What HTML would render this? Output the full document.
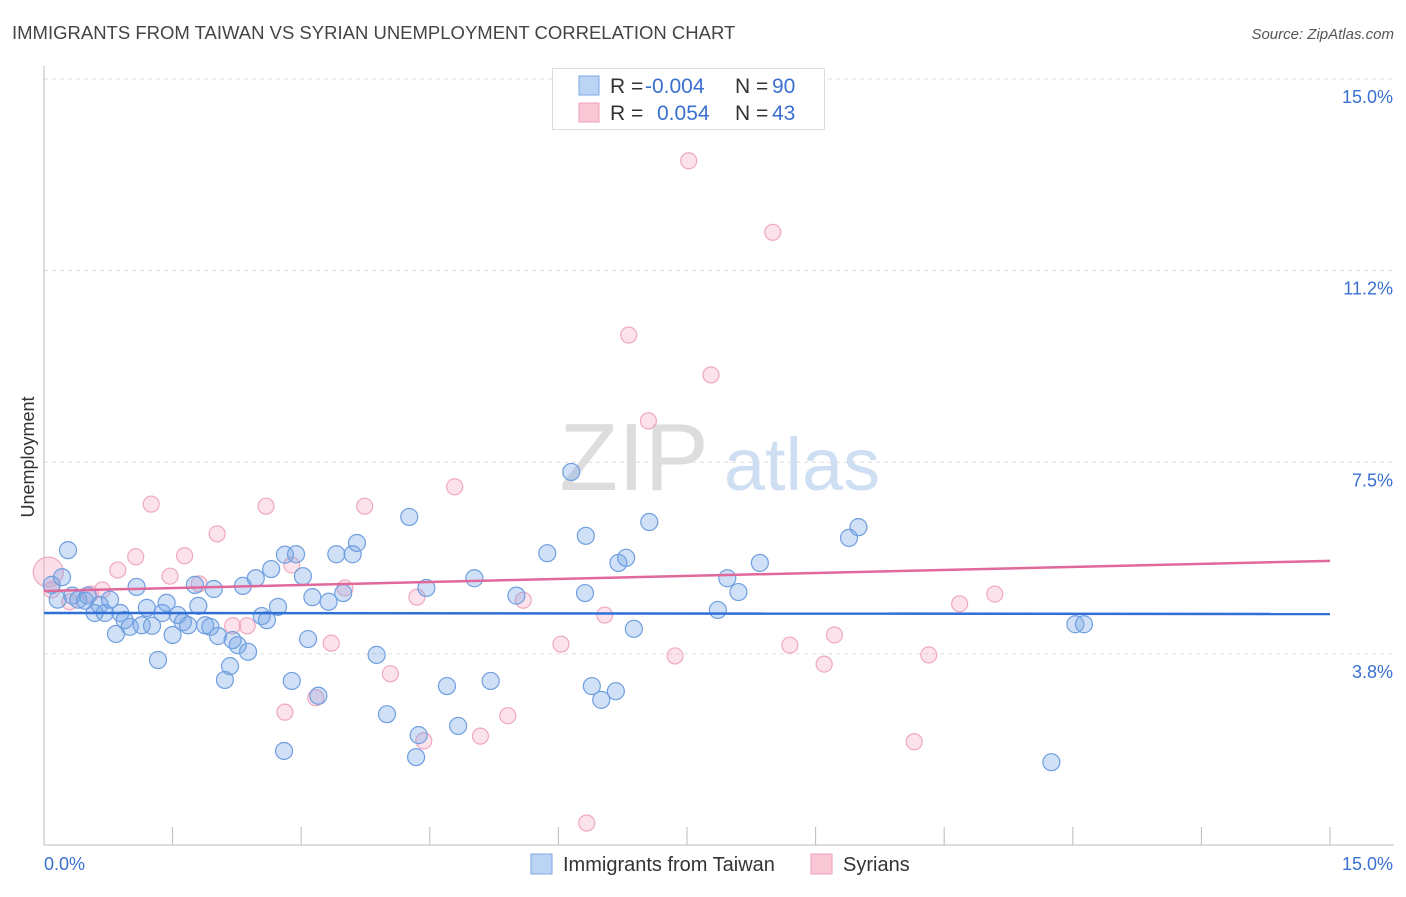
<!DOCTYPE html>
<html><head><meta charset="utf-8"><style>
body{margin:0;background:#fff;font-family:"Liberation Sans",sans-serif;}
svg text{font-family:"Liberation Sans",sans-serif;}
</style></head><body>
<svg id="chart" width="1406" height="892" viewBox="0 0 1406 892">
<text x="12" y="39" font-size="18.5" fill="#444">IMMIGRANTS FROM TAIWAN VS SYRIAN UNEMPLOYMENT CORRELATION CHART</text>
<text x="1394" y="39" font-size="15" fill="#555" font-style="italic" text-anchor="end">Source: ZipAtlas.com</text>
<g>
<text x="634" y="490" font-size="96" font-family="Liberation Serif, serif" fill="#ddd" text-anchor="middle">ZIP</text>
<text x="802" y="490" font-size="74" fill="#cfdff3" text-anchor="middle">atlas</text>
</g>
<text x="34" y="457" font-size="18" fill="#333" text-anchor="middle" transform="rotate(-90 34 457)">Unemployment</text>
<g id="grid"></g><g id="axes"></g><g id="marks"></g>
<g>
<rect x="552.5" y="68.5" width="272" height="61" fill="#fff" stroke="#ddd"/>
<rect x="579" y="76" width="20" height="19" fill="#bcd4f4" stroke="#7aa8e4"/>
<rect x="579" y="103" width="20" height="19" fill="#f8c8d6" stroke="#f0a0b8"/>
<text y="93" font-size="21"><tspan x="610" fill="#333">R = </tspan><tspan x="645" fill="#3a70d0">-0.004</tspan><tspan x="735" fill="#333">N = </tspan><tspan x="772" fill="#3a70d0">90</tspan></text>
<text y="120" font-size="21"><tspan x="610" fill="#333">R = </tspan><tspan x="657" fill="#3a70d0">0.054</tspan><tspan x="735" fill="#333">N = </tspan><tspan x="772" fill="#3a70d0">43</tspan></text>
</g>
<g>
<rect x="531" y="854" width="21" height="20" fill="#bcd4f4" stroke="#7aa8e4"/>
<text x="563" y="871" font-size="20" fill="#333">Immigrants from Taiwan</text>
<rect x="811" y="854" width="21" height="20" fill="#f8c8d6" stroke="#f0a0b8"/>
<text x="843" y="871" font-size="20" fill="#333">Syrians</text>
</g>
</svg>
<script>
const yTicks=[3.75,7.5,11.25,15];
const yTickLabels=["3.8%","7.5%","11.2%","15.0%"];
const xTicks=[0,1.5,3,4.5,6,7.5,9,10.5,12,13.5,15];
const taiwanX=[0.09,0.16,0.21,0.28,0.33,0.40,0.48,0.51,0.59,0.65,0.71,0.77,0.84,0.89,0.94,1.00,1.08,1.14,1.20,1.26,1.33,1.38,1.43,1.50,1.56,1.62,1.68,1.76,1.80,1.88,1.94,1.98,2.03,2.11,2.17,2.20,2.26,2.32,2.38,2.47,2.54,2.60,2.65,2.73,2.80,2.81,2.89,2.94,3.02,3.08,3.13,3.20,3.32,3.41,3.49,3.60,3.65,3.88,4.00,4.26,4.37,4.34,4.46,4.70,4.83,5.02,5.21,5.51,5.87,6.15,6.31,6.32,6.39,6.50,6.67,6.70,6.79,6.88,7.06,7.86,7.97,8.10,8.35,9.39,9.50,11.75,12.03,12.13];
const taiwanY=[5.10,4.81,5.25,5.78,4.89,4.81,4.79,4.89,4.55,4.71,4.55,4.81,4.14,4.55,4.41,4.28,5.06,4.31,4.65,4.30,3.63,4.55,4.75,4.12,4.51,4.37,4.31,5.10,4.69,4.31,4.28,5.02,4.10,3.24,3.51,4.02,3.92,5.08,3.79,5.23,4.49,4.41,5.41,4.67,1.85,5.69,3.22,5.70,5.27,4.04,4.86,2.93,4.77,5.70,4.94,5.70,5.92,3.73,2.57,6.43,2.16,1.73,5.04,3.12,2.34,5.23,3.22,4.89,5.72,7.31,4.94,6.06,3.12,2.85,3.02,5.53,5.63,4.24,6.33,4.61,5.23,4.96,5.53,6.02,6.23,1.63,4.33,4.33];
const syrX=[0.09,0.30,0.54,0.68,0.86,1.07,1.25,1.47,1.64,1.81,2.02,2.20,2.37,2.59,2.81,2.89,3.17,3.35,3.51,3.74,4.04,4.35,4.43,4.79,5.09,5.41,5.59,6.03,6.33,6.54,6.82,7.05,7.36,7.52,7.78,8.50,8.70,9.10,9.22,10.15,10.32,10.68,11.09];
const syrY=[5.00,4.77,4.92,5.00,5.39,5.65,6.68,5.27,5.67,5.12,6.10,4.30,4.30,6.64,2.61,5.49,2.89,3.96,5.04,6.64,3.36,4.86,2.05,7.02,2.14,2.54,4.80,3.94,0.44,4.51,9.99,8.31,3.71,13.40,9.21,12.00,3.92,3.55,4.12,2.03,3.73,4.73,4.92];
const bigSyrX=[0.05], bigSyrY=[5.35];
const taiwanTrend=[4.55,4.53];
const syrTrend=[4.98,5.57];
const NS="http://www.w3.org/2000/svg";
const X=v=>44+v*(1286/15);
const Y=v=>845.5-v*(766.5/15);
function mk(t,a,p){const e=document.createElementNS(NS,t);for(const k in a)e.setAttribute(k,a[k]);p.appendChild(e);return e;}
const grid=document.getElementById('grid'),axes=document.getElementById('axes'),marks=document.getElementById('marks');
yTicks.forEach((t,i)=>{
 const l=mk('line',{x1:44,x2:1394,y1:Y(t),y2:Y(t),stroke:'#ddd','stroke-dasharray':'4,4'},grid);
 
 
 const tx=mk('text',{x:1393,y:Y(t)+24,'font-size':18,fill:'#3a70d0','text-anchor':'end'},axes);
 tx.textContent=yTickLabels[i];
 
 
});
const yax=mk('line',{x1:44,x2:44,y1:66,y2:845,stroke:'#bbb'},axes);


const xax=mk('line',{x1:44,x2:1394,y1:845,y2:845,stroke:'#bbb'},axes);


xTicks.forEach(t=>{
 const l=mk('line',{x1:X(t),x2:X(t),y1:827,y2:845,stroke:'#bbb'},axes);
 
 
});
const xl0=mk('text',{x:44,y:870,'font-size':18,fill:'#3a70d0'},axes);xl0.textContent='0.0%';


const xl1=mk('text',{x:1393,y:870,'font-size':18,fill:'#3a70d0','text-anchor':'end'},axes);xl1.textContent='15.0%';


function pts(xs,ys,r,fill,stroke,name){xs.forEach((x,i)=>{const c=mk('circle',{cx:X(x),cy:Y(ys[i]),r:r,fill:fill,stroke:stroke,'stroke-width':1.2},marks);
 
 });}
pts(syrX,syrY,8,'rgba(244,160,188,0.3)','#f0a8be','syrians-point');
pts(bigSyrX,bigSyrY,15,'rgba(244,160,188,0.35)','#f0a8be','syrians-point');
pts(taiwanX,taiwanY,8.5,'rgba(120,165,230,0.35)','#6f9fe0','taiwan-point');
const tl=mk('line',{x1:X(0),x2:X(15),y1:Y(taiwanTrend[0]),y2:Y(taiwanTrend[1]),stroke:'#2f6fd6','stroke-width':2.5},marks);


const sl=mk('line',{x1:X(0),x2:X(15),y1:Y(syrTrend[0]),y2:Y(syrTrend[1]),stroke:'#e0689a','stroke-width':2.5},marks);


</script>
</body></html>
